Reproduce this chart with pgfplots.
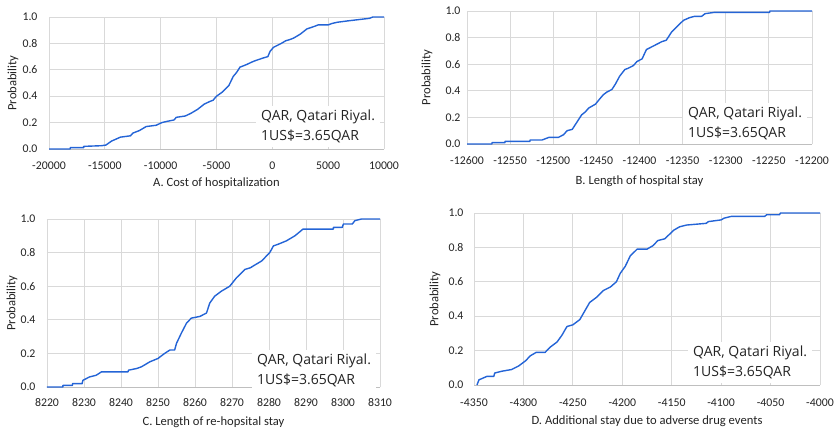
\documentclass[border=0pt]{standalone}
\usepackage{pgfplots}
\pgfplotsset{compat=1.18}
\usepackage{fontspec}
\setmainfont{Carlito}
\newfontfamily\segoe{Open Sans}

\definecolor{cdfblue}{RGB}{36,100,214}
\definecolor{gridgray}{RGB}{217,217,217}
\definecolor{axisgray}{RGB}{191,191,191}
\definecolor{txt}{RGB}{35,35,35}

\tikzset{
  note/.style={fill=white, anchor=south west, align=left, inner xsep=5pt, inner ysep=4pt,
    text=txt, font=\segoe\fontsize{14}{19.5}\selectfont},
}
\pgfplotsset{
  panel/.style={
    scale only axis,
    anchor=south west,
    ymin=0, ymax=1,
    ytick={0,0.2,0.4,0.6,0.8,1},
    yticklabel style={/pgf/number format/fixed, /pgf/number format/fixed zerofill,
      /pgf/number format/precision=1},
    xticklabel style={/pgf/number format/1000 sep={}},
    scaled ticks=false,
    /pgf/number format/assume math mode=true,
    grid=major,
    major grid style={draw=gridgray, line width=0.8pt},
    axis x line*=bottom, axis y line*=left,
    y axis line style={draw=none},
    x axis line style={draw=axisgray, line width=0.8pt},
    major tick length=0pt,
    tick label style={font=\fontsize{11.8}{13}\selectfont, text=txt},
    label style={font=\fontsize{12.6}{14}\selectfont, text=txt},
    ylabel={Probability},
    clip=false,
  },
  cdf/.style={cdfblue, line width=1.4pt, line join=round},
}
\newcommand{\qarnote}{QAR, Qatari Riyal.\\1US\$=3.65QAR}

\begin{document}
\begin{tikzpicture}
\path[use as bounding box] (0pt,0pt) rectangle (837pt,-432pt);

% A
\begin{axis}[panel,
  at={(49pt,-149pt)}, width=335pt, height=132pt,
  xmin=-20000, xmax=10000, xtick={-20000,-15000,...,10000},
  xticklabel style={yshift=-9pt}, yticklabel style={xshift=-8pt},
  xlabel={A. Cost of hospitalization},
  xlabel style={at={(rel axis cs:0.5,0)}, anchor=center, yshift=-34pt},
  ylabel style={at={([xshift=-36pt]rel axis cs:0,0.5)}, anchor=center},
]
\addplot[cdf] coordinates {
(-20000,0) (-18100,0) (-18100,0.01) (-16900,0.01) (-16900,0.02) (-15300,0.025)
(-14900,0.03) (-14400,0.06) (-13600,0.09) (-12700,0.10) (-12500,0.12) (-11900,0.14)
(-11300,0.17) (-10400,0.18) (-9900,0.20) (-9400,0.21) (-8800,0.22) (-8600,0.24)
(-7800,0.25) (-7300,0.27) (-6700,0.30) (-6100,0.34) (-5600,0.36) (-5300,0.37)
(-5000,0.40) (-4500,0.43) (-3900,0.48) (-3500,0.55) (-3200,0.58) (-2900,0.62)
(-2300,0.64) (-1800,0.66) (-1500,0.67) (-800,0.69) (-400,0.70) (-200,0.74)
(100,0.77) (800,0.80) (1200,0.82) (1600,0.83) (1900,0.84) (2500,0.87)
(3100,0.91) (3800,0.93) (4100,0.94) (5000,0.94) (5300,0.95) (5800,0.96)
(6700,0.97) (7700,0.98) (8700,0.99) (9000,1.0) (10000,1.0)
};
\node[note] at (rel axis cs:1,0) [xshift=-128pt, yshift=2pt] {\qarnote};
\end{axis}

% B
\begin{axis}[panel,
  at={(467pt,-144pt)}, width=345pt, height=133pt,
  xmin=-12600, xmax=-12200, xtick={-12600,-12550,...,-12200},
  xticklabel style={yshift=-9pt}, yticklabel style={xshift=-3pt},
  xlabel={B. Length of hospital stay},
  xlabel style={at={(rel axis cs:0.5,0)}, anchor=center, yshift=-37pt},
  ylabel style={at={([xshift=-40pt]rel axis cs:0,0.5)}, anchor=center},
]
\addplot[cdf] coordinates {
(-12600,0) (-12571,0) (-12571,0.01) (-12556,0.01) (-12556,0.02) (-12527,0.02)
(-12527,0.03) (-12513,0.03) (-12505,0.05) (-12494,0.05) (-12488,0.07) (-12484,0.10)
(-12478,0.11) (-12475,0.14) (-12471,0.18) (-12467,0.22) (-12463,0.24) (-12459,0.27)
(-12451,0.30) (-12446,0.34) (-12442,0.37) (-12438,0.39) (-12432,0.41) (-12428,0.45)
(-12423,0.51) (-12417,0.56) (-12413,0.57) (-12407,0.59) (-12403,0.62) (-12397,0.64)
(-12392,0.71) (-12386,0.73) (-12380,0.75) (-12374,0.77) (-12369,0.78) (-12363,0.84)
(-12357,0.88) (-12349,0.93) (-12342,0.95) (-12336,0.96) (-12328,0.96) (-12324,0.98)
(-12313,0.99) (-12249,0.99) (-12249,1.0) (-12200,1.0)
};
\node[note] at (rel axis cs:1,0) [xshift=-129pt, yshift=0pt] {\qarnote};
\end{axis}

% C
\begin{axis}[panel,
  at={(47pt,-387pt)}, width=333pt, height=168pt,
  xmin=8220, xmax=8310, xtick={8220,8230,...,8310},
  xticklabel style={yshift=-8pt}, yticklabel style={xshift=-8pt},
  xlabel={C. Length of re-hopsital stay},
  xlabel style={at={(rel axis cs:0.5,0)}, anchor=center, yshift=-35pt},
  ylabel style={at={([xshift=-35pt]rel axis cs:0,0.5)}, anchor=center},
]
\addplot[cdf] coordinates {
(8220,0) (8224.3,0) (8224.3,0.01) (8226.9,0.01) (8226.9,0.02) (8229.5,0.02)
(8229.7,0.04) (8231.5,0.06) (8233.3,0.07) (8234.7,0.09) (8241.9,0.09) (8242,0.10)
(8244.2,0.11) (8245.5,0.12) (8247.8,0.15) (8250,0.17) (8251.8,0.20) (8253.2,0.22)
(8254.5,0.22) (8255,0.26) (8256.3,0.32) (8257.7,0.38) (8259,0.41) (8261.3,0.42)
(8263.1,0.44) (8264,0.50) (8265.3,0.54) (8267.1,0.57) (8269.4,0.60) (8271.2,0.65)
(8273.5,0.70) (8275,0.71) (8275.7,0.72) (8278,0.75) (8280.2,0.80) (8281.2,0.84)
(8282.5,0.85) (8284.7,0.87) (8287,0.90) (8289.2,0.94) (8297.4,0.94) (8297.4,0.95)
(8299.8,0.95) (8300.1,0.97) (8302.5,0.97) (8303.2,0.99) (8305,1.0) (8310,1.0)
};
\node[note] at (rel axis cs:1,0) [xshift=-128pt, yshift=-4pt] {\qarnote};
\end{axis}

% D
\begin{axis}[panel,
  at={(474pt,-385pt)}, width=346pt, height=172pt,
  xmin=-4350, xmax=-4000, xtick={-4350,-4300,...,-4000},
  xticklabel style={yshift=-10pt}, yticklabel style={xshift=-7pt},
  xlabel={D. Additional stay due to adverse drug events},
  xlabel style={at={(rel axis cs:0.5,0)}, anchor=center, yshift=-36pt},
  ylabel style={at={([xshift=-39pt]rel axis cs:0,0.5)}, anchor=center},
]
\addplot[cdf] coordinates {
(-4347,0) (-4345,0.03) (-4341,0.04) (-4337,0.05) (-4330,0.05) (-4329,0.07)
(-4322,0.08) (-4312,0.09) (-4305,0.11) (-4298,0.14) (-4293,0.17) (-4287,0.19)
(-4278,0.19) (-4273,0.22) (-4266,0.25) (-4261,0.29) (-4256,0.34) (-4250,0.35)
(-4243,0.38) (-4238,0.43) (-4233,0.48) (-4226,0.51) (-4219,0.55) (-4212,0.57)
(-4206,0.60) (-4202,0.65) (-4197,0.69) (-4192,0.75) (-4185,0.79) (-4175,0.79)
(-4169,0.81) (-4164,0.84) (-4157,0.85) (-4148,0.90) (-4142,0.92) (-4135,0.93)
(-4115,0.94) (-4113,0.95) (-4100,0.96) (-4097,0.97) (-4090,0.98) (-4056,0.98)
(-4054,0.99) (-4041,0.99) (-4040,1.0) (-4000,1.0)
};
\node[note] at (rel axis cs:1,0) [xshift=-132pt, yshift=2pt] {\qarnote};
\end{axis}
\end{tikzpicture}
\end{document}
